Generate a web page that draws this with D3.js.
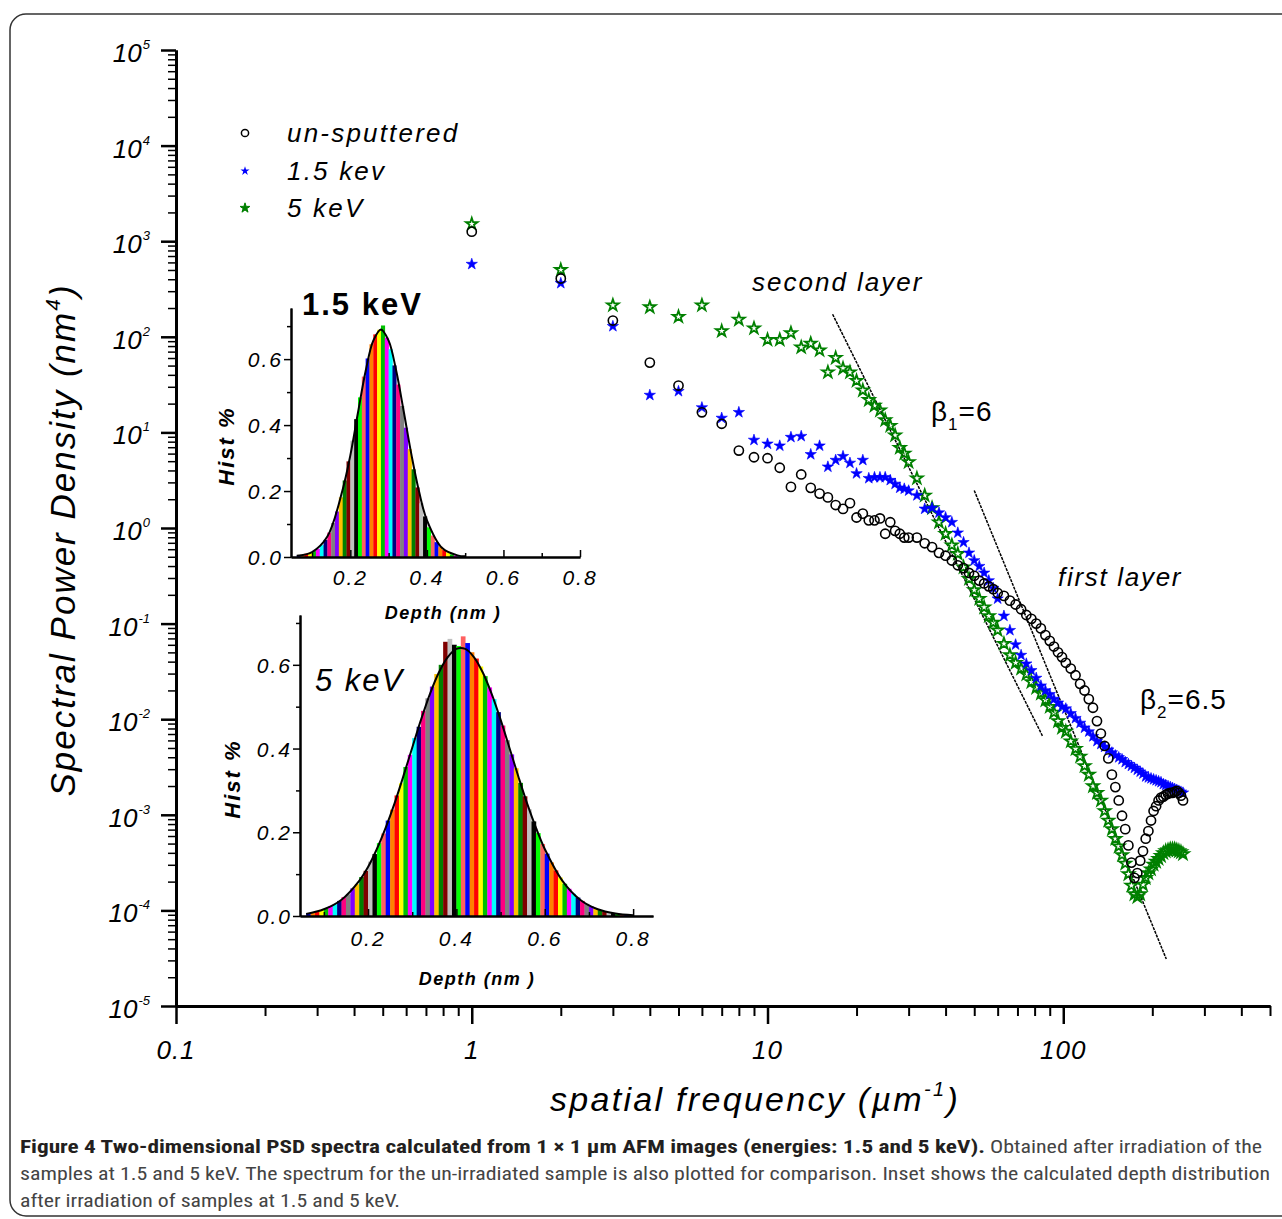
<!DOCTYPE html>
<html>
<head>
<meta charset="utf-8">
<script src="https://cdn.jsdelivr.net/npm/d3@7"></script>
<style>
body { margin: 0; background: #fff; }
svg { display: block; }
text { font-family: "Liberation Sans", Arial, sans-serif; }
.cap { font-family: "Liberation Sans Narrow", "Roboto Condensed", "Liberation Sans", sans-serif; }
</style>
</head>
<body>
<svg id="chart" width="1282" height="1219"></svg>
<script>
// ---- PSD data: spatial frequency (um^-1) and log10 of PSD (nm^4) ----
var freq = [1,2,3,4,5,6,7,8,9,10,11,12,13,14,15,16,17,18,19,20,21,22,23,24,25,26,27,28,29,30,
    32,34,36,38,40,42,44,46,48,50,52,54,56,58,60,
    63,66,69,72,75,78,81,84,87,90,93,96,99,
    102,106,110,114,118,122,126,130,134,138,142,146,150,154,158,162,166,170,174,178,182,186,190,
    194,198,202,206,210,214,218,222,226,230,234,238,242,246,250,254];

var logUnsputtered = [3.10,2.61,2.17,1.73,1.49,1.21,1.09,0.81,0.74,0.73,0.63,0.43,0.56,0.42,0.36,0.32,0.24,0.20,0.26,0.11,
    0.15,0.08,0.08,0.10,-0.06,0.06,-0.03,-0.06,-0.10,-0.10,
    -0.10,-0.16,-0.20,-0.26,-0.29,-0.34,-0.39,-0.42,-0.47,-0.50,-0.55,-0.58,-0.61,-0.64,-0.68,
    -0.71,-0.76,-0.80,-0.85,-0.91,-0.95,-1.00,-1.05,-1.12,-1.18,-1.24,-1.30,-1.35,
    -1.41,-1.47,-1.54,-1.63,-1.70,-1.79,-1.88,-2.02,-2.15,-2.28,-2.41,-2.58,-2.71,-2.85,-3.01,-3.15,-3.32,-3.50,-3.66,-3.61,
    -3.48,-3.38,-3.25,-3.17,-3.06,-2.96,-2.91,-2.85,-2.82,-2.81,-2.79,-2.78,-2.77,-2.77,-2.76,-2.75,-2.77,-2.80,-2.85];

var log15keV = [2.76,2.56,2.11,1.39,1.43,1.26,1.15,1.21,0.92,0.88,0.86,0.95,0.96,0.77,0.86,0.64,0.71,0.75,0.68,0.57,
    0.71,0.52,0.53,0.53,0.53,0.50,0.46,0.42,0.41,0.39,
    0.34,0.20,0.21,0.16,0.11,0.06,-0.05,-0.15,-0.26,-0.34,-0.40,-0.47,-0.55,-0.63,-0.74,
    -0.92,-1.07,-1.22,-1.33,-1.42,-1.49,-1.57,-1.65,-1.70,-1.74,-1.79,-1.83,-1.87,
    -1.89,-1.94,-1.99,-2.04,-2.09,-2.13,-2.18,-2.23,-2.26,-2.29,-2.32,-2.35,-2.38,-2.40,-2.42,-2.45,-2.47,-2.49,-2.51,-2.53,
    -2.55,-2.57,-2.60,-2.61,-2.62,-2.63,-2.64,-2.65,-2.66,-2.68,-2.69,-2.70,-2.71,-2.72,-2.73,-2.74,-2.75,-2.76,-2.77];

var log5keV = [3.18,2.70,2.33,2.31,2.21,2.33,2.06,2.18,2.09,1.97,1.97,2.04,1.89,1.93,1.86,1.63,1.78,1.67,1.63,1.54,
    1.44,1.34,1.28,1.23,1.13,1.07,0.97,0.84,0.78,0.69,
    0.52,0.34,0.21,0.06,-0.06,-0.18,-0.27,-0.41,-0.53,-0.65,-0.74,-0.83,-0.92,-0.99,-1.07,
    -1.21,-1.33,-1.41,-1.47,-1.53,-1.61,-1.67,-1.73,-1.80,-1.87,-1.93,-2.02,-2.09,
    -2.13,-2.23,-2.31,-2.39,-2.49,-2.58,-2.70,-2.77,-2.85,-2.96,-3.06,-3.15,-3.25,-3.33,-3.42,-3.51,-3.62,-3.74,-3.83,-3.86,
    -3.83,-3.73,-3.66,-3.61,-3.57,-3.52,-3.49,-3.46,-3.43,-3.40,-3.38,-3.37,-3.36,-3.36,-3.36,-3.37,-3.38,-3.39,-3.41];

// power-law guide lines (end points)
var beta1Freq = [16.6, 85];
var beta1Psd = [172, 6.7e-3];
var beta2Freq = [50, 223];
var beta2Psd = [2.47, 3.1e-5];

// main axis ticks
var xMajor = [0.1, 1, 10, 100];
var xMajorLabels = ["0.1", "1", "10", "100"];
var yMajorExp = [5, 4, 3, 2, 1, 0, -1, -2, -3, -4, -5];

// ---- inset histograms: depth (nm) bins of 0.01 starting at 0.06, Hist % per bin ----
var hist15Start = 0.06;
var hist15 = [0.005,0.007,0.010,0.013,0.018,0.025,0.036,0.052,0.074,0.103,0.138,0.181,0.232,0.290,0.353,
    0.418,0.484,0.547,0.602,0.645,0.675,0.689,0.702,0.665,0.630,0.581,0.523,0.458,0.392,0.327,
    0.266,0.211,0.163,0.123,0.090,0.065,0.045,0.031,0.021,0.013,0.008,0.005,0.003,0.002];
var hist5Start = 0.06;
var hist5 = [0.007,0.009,0.011,0.015,0.018,0.024,0.028,0.036,0.045,0.052,0.066,0.076,0.093,0.108,0.130,
    0.148,0.174,0.197,0.228,0.254,0.288,0.317,0.356,0.385,0.425,0.452,0.490,0.520,0.548,0.578,
    0.600,0.655,0.662,0.648,0.645,0.668,0.652,0.630,0.615,0.596,0.573,0.546,0.518,0.487,0.455,
    0.420,0.386,0.353,0.318,0.286,0.255,0.226,0.198,0.172,0.149,0.128,0.109,0.092,0.077,0.065,
    0.053,0.044,0.036,0.029,0.023,0.018,0.014,0.011,0.009,0.007,0.005,0.004,0.003,0.002];
var binWidth = 0.01;

// fitted envelopes drawn over the bars
var fit15Depth = [0.06, 0.10, 0.14, 0.18, 0.20, 0.22, 0.24, 0.26, 0.28, 0.30, 0.32, 0.34, 0.36, 0.38, 0.40, 0.44, 0.48, 0.50];
var fit15Hist  = [0.004, 0.015, 0.062, 0.205, 0.308, 0.438, 0.564, 0.656, 0.690, 0.656, 0.564, 0.438, 0.308, 0.196, 0.112, 0.027, 0.005, 0.002];
var fit5Depth = [0.06, 0.10, 0.14, 0.18, 0.20, 0.22, 0.24, 0.26, 0.28, 0.30, 0.32, 0.34, 0.36, 0.38, 0.40, 0.42,
    0.44, 0.46, 0.48, 0.50, 0.52, 0.54, 0.56, 0.58, 0.60, 0.64, 0.68, 0.72, 0.76, 0.80];
var fit5Hist  = [0.005, 0.016, 0.039, 0.084, 0.117, 0.160, 0.211, 0.269, 0.334, 0.402, 0.469, 0.530, 0.581, 0.618, 0.638, 0.638,
    0.618, 0.581, 0.530, 0.469, 0.402, 0.334, 0.269, 0.211, 0.160, 0.084, 0.039, 0.016, 0.006, 0.002];

var histXTicks = [0.2, 0.4, 0.6, 0.8];
var histXLabels = ["0.2", "0.4", "0.6", "0.8"];
var histYTicks = [0.0, 0.2, 0.4, 0.6];
var histYLabels = ["0.0", "0.2", "0.4", "0.6"];

// colour cycle used for histogram bars
var barColors = ["#0000ff", "#ff8000", "#ff0000", "#ffff00", "#00c000", "#ff00ff", "#00ffff", "#000080",
    "#ff0080", "#808080", "#8000ff", "#ffc000", "#008000", "#800000", "#c0c0c0", "#000000", "#00ff00", "#ff6060"];

var svg = d3.select("#chart");

// rounded frame
svg.append("rect")
    .attr("x", 10).attr("y", 14)
    .attr("width", 1300).attr("height", 1202)
    .attr("rx", 16)
    .attr("fill", "none")
    .attr("stroke", "#333")
    .attr("stroke-width", 1.5);

// ---------- main plot ----------
var x = d3.scaleLog().domain([0.1, 500]).range([176, 1270]);
var y = d3.scaleLog().domain([1e-5, 1e5]).range([1006, 50]);

var xMinor = [];
xMajor.forEach(function(d) {
    for (var k = 2; k <= 9; k++) if (d * k <= 500.001) xMinor.push(d * k);
});
var yMajor = yMajorExp.map(e => Math.pow(10, e));
var yMinor = [];
yMajorExp.forEach(function(e) {
    if (e < 5) for (var k = 2; k <= 9; k++) yMinor.push(k * Math.pow(10, e));
});

function styleAxis(g, w, tw) {
    g.select(".domain").attr("stroke", "#000").attr("stroke-width", w);
    g.selectAll(".tick line").attr("stroke", "#000").attr("stroke-width", tw);
}

// x axis: minor then major ticks
svg.append("g")
    .attr("transform", "translate(0,1006)")
    .call(d3.axisBottom(x).tickValues(xMinor).tickSize(10).tickSizeOuter(0).tickFormat(""))
    .call(g => styleAxis(g, 3, 2));
svg.append("g")
    .attr("transform", "translate(0,1006)")
    .call(d3.axisBottom(x).tickValues(xMajor).tickSize(18).tickSizeOuter(0).tickFormat(""))
    .call(g => styleAxis(g, 3, 2.5));

// y axis
svg.append("g")
    .attr("transform", "translate(176,0)")
    .call(d3.axisLeft(y).tickValues(yMinor).tickSize(8).tickSizeOuter(0).tickFormat(""))
    .call(g => styleAxis(g, 3, 1.5));
svg.append("g")
    .attr("transform", "translate(176,0)")
    .call(d3.axisLeft(y).tickValues(yMajor).tickSize(15).tickSizeOuter(0).tickFormat(""))
    .call(g => styleAxis(g, 3, 2.5));

// x tick labels
svg.append("g").selectAll("text")
    .data(xMajor)
    .enter().append("text")
    .attr("x", d => x(d))
    .attr("y", 1059)
    .attr("text-anchor", "middle")
    .style("font-size", "26px")
    .style("font-style", "italic")
    .style("letter-spacing", "1px")
    .text((d, i) => xMajorLabels[i]);

// y tick labels 10^n
var yLab = svg.append("g").selectAll("text")
    .data(yMajorExp)
    .enter().append("text")
    .attr("x", 150)
    .attr("y", d => y(Math.pow(10, d)) + 12)
    .attr("text-anchor", "end")
    .style("font-size", "26px")
    .style("font-style", "italic");
yLab.append("tspan").text("10");
yLab.append("tspan")
    .attr("dx", 1).attr("dy", -13)
    .style("font-size", "13px")
    .text(d => d < 0 ? "-" + (-d) : d);

// axis titles
svg.append("text")
    .attr("transform", "translate(75,540) rotate(-90)")
    .attr("text-anchor", "middle")
    .style("font-size", "35px")
    .style("font-style", "italic")
    .style("letter-spacing", "2px")
    .html('Spectral Power Density (nm<tspan dy="-15" font-size="21">4</tspan><tspan dy="15">)</tspan>');

svg.append("text")
    .attr("x", 755)
    .attr("y", 1111)
    .attr("text-anchor", "middle")
    .style("font-size", "34px")
    .style("font-style", "italic")
    .style("letter-spacing", "2.3px")
    .html('spatial frequency (µm<tspan dy="-15" font-size="20">-1</tspan><tspan dy="15">)</tspan>');

// guide lines
var lineGen = d3.line().x(d => x(d[0])).y(d => y(d[1]));
[[beta1Freq, beta1Psd], [beta2Freq, beta2Psd]].forEach(function(b) {
    svg.append("path")
        .attr("d", lineGen(b[0].map((f, i) => [f, b[1][i]])))
        .attr("fill", "none")
        .attr("stroke", "#000")
        .attr("stroke-width", 1.5)
        .attr("stroke-dasharray", "3,1");
});

// series
function toPoints(vals) {
    return freq.map((f, i) => ({f: f, p: Math.pow(10, vals[i])}));
}
var starBig = d3.symbol().type(d3.symbolStar).size(42);
var starSmall = d3.symbol().type(d3.symbolStar).size(40);

svg.append("g").selectAll("path")
    .data(toPoints(log5keV))
    .enter().append("path")
    .attr("d", starBig)
    .attr("transform", d => "translate(" + x(d.f) + "," + y(d.p) + ")")
    .attr("fill", "none")
    .attr("stroke", "#008000")
    .attr("stroke-width", 1.8);

svg.append("g").selectAll("path")
    .data(toPoints(log15keV))
    .enter().append("path")
    .attr("d", starSmall)
    .attr("transform", d => "translate(" + x(d.f) + "," + y(d.p) + ")")
    .attr("fill", "#0000ff")
    .attr("stroke", "#0000ff")
    .attr("stroke-width", 0.6);

svg.append("g").selectAll("circle")
    .data(toPoints(logUnsputtered))
    .enter().append("circle")
    .attr("cx", d => x(d.f))
    .attr("cy", d => y(d.p))
    .attr("r", 4.6)
    .attr("fill", "none")
    .attr("stroke", "#000")
    .attr("stroke-width", 1.6);

// legend
var legendItems = ["un-sputtered", "1.5 kev", "5 keV"];
var legendY = [133, 171, 208];
var lg = svg.append("g");
lg.append("circle").attr("cx", 245).attr("cy", legendY[0]).attr("r", 3.6)
    .attr("fill", "none").attr("stroke", "#000").attr("stroke-width", 1.5);
lg.append("path").attr("d", d3.symbol().type(d3.symbolStar).size(26))
    .attr("transform", "translate(245," + legendY[1] + ")").attr("fill", "#0000ff");
lg.append("path").attr("d", d3.symbol().type(d3.symbolStar).size(30))
    .attr("transform", "translate(245," + legendY[2] + ")")
    .attr("fill", "#008000").attr("stroke", "#008000").attr("stroke-width", 1);
lg.selectAll("text")
    .data(legendItems)
    .enter().append("text")
    .attr("x", 287)
    .attr("y", (d, i) => legendY[i] + 9)
    .style("font-size", "26px")
    .style("font-style", "italic")
    .style("letter-spacing", "2.2px")
    .text(d => d);

// annotations
function note(tx, ty, html, size, italic, ls) {
    svg.append("text")
        .attr("x", tx).attr("y", ty)
        .style("font-size", size + "px")
        .style("font-style", italic ? "italic" : "normal")
        .style("letter-spacing", ls + "px")
        .html(html);
}
note(752, 291, "second layer", 26, true, 2);
note(1058, 586, "first layer", 26, true, 1.7);
note(931, 421, 'β<tspan dy="9" font-size="17">1</tspan><tspan dy="-9">=6</tspan>', 28, false, 1);
note(1140, 709, 'β<tspan dy="9" font-size="17">2</tspan><tspan dy="-9">=6.5</tspan>', 28, false, 1);

// ---------- insets ----------
function drawInset(o) {
    var ix = d3.scaleLinear().domain(o.xDomain).range(o.xRange);
    var iy = d3.scaleLinear().domain(o.yDomain).range(o.yRange);
    var g = svg.append("g");

    var bins = o.hist.map((h, i) => ({x0: o.start + i * binWidth, h: h}));

    g.selectAll("rect")
        .data(bins)
        .enter().append("rect")
        .attr("x", d => ix(d.x0))
        .attr("y", d => iy(d.h))
        .attr("width", d => ix(d.x0 + binWidth) - ix(d.x0) + 0.3)
        .attr("height", d => iy(0) - iy(d.h))
        .attr("fill", (d, i) => barColors[i % barColors.length]);

    // fitted envelope
    g.append("path")
        .attr("d", d3.line().x(d => ix(d[0])).y(d => iy(d[1])).curve(d3.curveCatmullRom)(
            o.fitX.map((v, i) => [v, o.fitY[i]])))
        .attr("fill", "none")
        .attr("stroke", "#000")
        .attr("stroke-width", 2);

    // axes
    g.append("g")
        .attr("transform", "translate(0," + o.yRange[0] + ")")
        .call(d3.axisTop(ix).tickValues([0.1, 0.3, 0.5, 0.7]).tickSize(4).tickSizeOuter(0).tickFormat(""))
        .call(a => styleAxis(a, 2, 1.5));
    g.append("g")
        .attr("transform", "translate(0," + o.yRange[0] + ")")
        .call(d3.axisTop(ix).tickValues(histXTicks).tickSize(7).tickSizeOuter(0).tickFormat(""))
        .call(a => styleAxis(a, 2, 1.5));
    g.append("g")
        .attr("transform", "translate(" + o.xRange[0] + ",0)")
        .call(d3.axisLeft(iy).tickValues([0.1, 0.3, 0.5, 0.7]).tickSize(4).tickSizeOuter(0).tickFormat(""))
        .call(a => styleAxis(a, 2, 1.5));
    g.append("g")
        .attr("transform", "translate(" + o.xRange[0] + ",0)")
        .call(d3.axisLeft(iy).tickValues(histYTicks).tickSize(7).tickSizeOuter(0).tickFormat(""))
        .call(a => styleAxis(a, 2, 1.5));

    g.append("g").selectAll("text")
        .data(histXTicks)
        .enter().append("text")
        .attr("x", d => ix(d))
        .attr("y", o.yRange[0] + o.xLabDy)
        .attr("text-anchor", "middle")
        .style("font-size", "21px")
        .style("font-style", "italic")
        .style("letter-spacing", "2px")
        .text((d, i) => histXLabels[i]);
    g.append("g").selectAll("text")
        .data(histYTicks)
        .enter().append("text")
        .attr("x", o.xRange[0] - 8)
        .attr("y", d => iy(d) + 8)
        .attr("text-anchor", "end")
        .style("font-size", "21px")
        .style("font-style", "italic")
        .style("letter-spacing", "2px")
        .text((d, i) => histYLabels[i]);

    g.append("text")
        .attr("transform", "translate(" + o.histLab[0] + "," + o.histLab[1] + ") rotate(-90)")
        .attr("text-anchor", "middle")
        .style("font-size", "22px")
        .style("font-style", "italic")
        .style("font-weight", "bold")
        .style("letter-spacing", "2px")
        .text("Hist %");
    g.append("text")
        .attr("x", o.depthLab[0]).attr("y", o.depthLab[1])
        .attr("text-anchor", "middle")
        .style("font-size", "18px")
        .style("font-style", "italic")
        .style("font-weight", "bold")
        .style("letter-spacing", "1.5px")
        .text("Depth (nm )");
    g.append("text")
        .attr("x", o.title[0]).attr("y", o.title[1])
        .style("font-size", o.titleSize + "px")
        .style("font-weight", o.titleBold ? "bold" : "normal")
        .style("font-style", o.titleBold ? "normal" : "italic")
        .style("letter-spacing", "2px")
        .text(o.titleText);
}

drawInset({
    xDomain: [0.045, 0.8], xRange: [291, 580],
    yDomain: [0, 0.755], yRange: [557, 308],
    start: hist15Start, hist: hist15, fitX: fit15Depth, fitY: fit15Hist, xLabDy: 28,
    histLab: [234, 446], depthLab: [443, 619],
    title: [302, 315], titleSize: 31, titleBold: true, titleText: "1.5 keV"
});
drawInset({
    xDomain: [0.046, 0.845], xRange: [300, 653],
    yDomain: [0, 0.719], yRange: [916, 615],
    start: hist5Start, hist: hist5, fitX: fit5Depth, fitY: fit5Hist, xLabDy: 30,
    histLab: [240, 779], depthLab: [477, 985],
    title: [315, 691], titleSize: 31, titleBold: false, titleText: "5 keV"
});

// ---------- caption ----------
svg.append("text").attr("class", "cap")
    .attr("x", 20).attr("y", 1153)
    .attr("textLength", 965).attr("lengthAdjust", "spacingAndGlyphs")
    .style("font-size", "18px").style("font-weight", "bold").style("fill", "#231f20")
    .text("Figure 4 Two-dimensional PSD spectra calculated from 1 × 1 µm AFM images (energies: 1.5 and 5 keV).");
svg.append("text").attr("class", "cap")
    .attr("x", 990).attr("y", 1153)
    .attr("textLength", 272).attr("lengthAdjust", "spacingAndGlyphs")
    .style("font-size", "18px").style("fill", "#444")
    .text("Obtained after irradiation of the");
svg.append("text").attr("class", "cap")
    .attr("x", 20).attr("y", 1180)
    .attr("textLength", 1250).attr("lengthAdjust", "spacingAndGlyphs")
    .style("font-size", "18px").style("fill", "#444")
    .text("samples at 1.5 and 5 keV. The spectrum for the un-irradiated sample is also plotted for comparison. Inset shows the calculated depth distribution");
svg.append("text").attr("class", "cap")
    .attr("x", 20).attr("y", 1207)
    .attr("textLength", 380).attr("lengthAdjust", "spacingAndGlyphs")
    .style("font-size", "18px").style("fill", "#444")
    .text("after irradiation of samples at 1.5 and 5 keV.");
</script>
</body>
</html>
